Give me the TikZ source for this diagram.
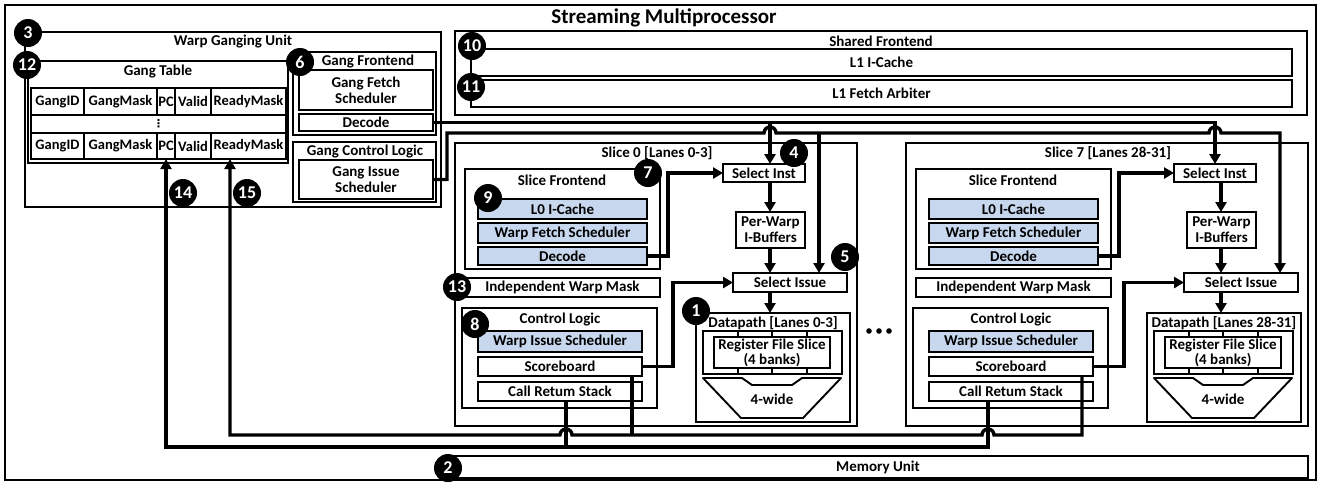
\documentclass[tikz,border=0pt]{standalone}
\usepackage{fontspec}
\setmainfont{Carlito}
\newfontfamily\dejavu{DejaVu Sans}
\usetikzlibrary{arrows.meta}
\definecolor{lblue}{RGB}{199,215,238}
\newcommand\mybox[7]{\node[#1,minimum width={(#5)-(#3)},minimum height={(#6)-(#4)}] (#2) at ({((#3)+(#5))/2},{((#4)+(#6))/2}) {#7};}
\tikzset{
  every node/.style={font=\bfseries\fontsize{15}{16}\selectfont, inner sep=1pt, outer sep=0pt},
  box/.style={draw, line width=1.9pt, fill=white, align=center},
  bbox/.style={box, fill=lblue},
  tcell/.style={box, font=\bfseries\fontsize{14.5}{15}\selectfont},
  lbl/.style={inner sep=0pt},
  conn/.style={line width=3.4pt},
  arr/.style={-{Triangle[length=10pt,width=11pt]}},
  num/.style={circle, fill=black, text=white, minimum size=28pt, inner sep=0pt, font=\bfseries\fontsize{18}{18}\selectfont},
}
\newcommand\drawslice[4]{%
\begin{scope}[xshift=#2pt]
\mybox{box}{#1box}{455}{143}{857}{426}{}
\node[lbl] (#1boxl) at (657,153) {#3};
\mybox{box}{#1fe}{465}{169}{660}{269}{}
\node[lbl] (#1fel) at (562,180) {Slice Frontend};
\mybox{bbox}{#1lz}{478}{199}{647}{219}{L0 I-Cache}
\mybox{bbox}{#1wfs}{478}{223}{647}{243}{Warp Fetch Scheduler}
\mybox{bbox}{#1dec}{478}{247}{647}{265}{Decode}
\mybox{box}{#1iwm}{465}{278}{660}{297}{Independent Warp Mask}
\mybox{box}{#1cl}{462}{308}{657}{408}{}
\node[lbl] (#1cll) at (560,319) {Control Logic};
\mybox{bbox}{#1wis}{478}{331}{642}{352}{Warp Issue Scheduler}
\mybox{box}{#1sb}{478}{357}{642}{376}{Scoreboard}
\mybox{box}{#1crs}{478}{382}{642}{401}{Call Retum Stack}
\mybox{box}{#1inst}{723}{164}{805}{182}{Select Inst}
\mybox{box}{#1pw}{736}{212}{805}{248}{Per-Warp\\I-Buffers}
\mybox{box}{#1iss}{733}{273}{847}{292}{Select Issue}
\mybox{box}{#1dp}{696}{313}{850}{422}{}
\node[lbl] (#1dpl) at (773,323) {#4};
\mybox{box}{#1rfo}{703}{331}{842}{374}{}
\mybox{box}{#1rf}{714}{337}{830}{368}{Register File Slice\\[-1pt](4 banks)}
\foreach \tk in {738,772,807}{\draw[line width=1.6pt] (\tk,331) -- (\tk,337) (\tk,368) -- (\tk,374);}
\draw[line width=1.9pt, line join=round] (703,378) -- (742,378) -- (752,385) -- (792,385) -- (802,378) -- (841,378) -- (803,418) -- (741,418) -- cycle;
\node[lbl] (#1alu) at (772,399) {4-wide};
\draw[conn,arr] (#1dec.east) -- (668,0 |- #1dec.east) -- (668,0 |- #1inst.west) -- (#1inst.west);
\draw[conn,arr] (770,0 |- #1inst.south) -- (770,0 |- #1pw.north);
\draw[conn,arr] (770,0 |- #1pw.south) -- (770,0 |- #1iss.north);
\draw[conn,arr] (770,0 |- #1iss.south) -- (770,0 |- #1dp.north);
\draw[conn,arr] (#1sb.east) -- (673,0 |- #1sb.east) -- (673,0 |- #1iss.west) -- (#1iss.west);
\end{scope}}
\begin{document}
\begin{tikzpicture}[x=1pt,y=-1pt]
\useasboundingbox (0,0) rectangle (1321,483);
\mybox{box}{sm}{5}{5}{1316}{480}{}
\node[lbl,font=\bfseries\fontsize{21}{21}\selectfont] (smt) at (664,18) {Streaming Multiprocessor};
% Warp ganging unit
\mybox{box}{wgu}{25}{32}{441}{207}{}
\node[lbl] (wgul) at (233,42) {Warp Ganging Unit};
\mybox{box}{gtab}{28}{61}{288}{163}{}
\node[lbl] (gtabl) at (158,72) {Gang Table};
\mybox{tcell}{gt11}{31}{88}{84}{115}{GangID}
\mybox{tcell}{gt12}{84}{88}{157}{115}{GangMask}
\mybox{tcell}{gt13}{157}{88}{175}{115}{PC}
\mybox{tcell}{gt14}{175}{88}{211}{115}{Valid}
\mybox{tcell}{gt15}{211}{88}{286}{115}{ReadyMask}
\mybox{tcell}{gt2}{31}{115}{286}{133}{\dejavu\fontsize{11}{11}\selectfont ⋮}
\mybox{tcell}{gt31}{31}{133}{84}{159}{GangID}
\mybox{tcell}{gt32}{84}{133}{157}{159}{GangMask}
\mybox{tcell}{gt33}{157}{133}{175}{159}{PC}
\mybox{tcell}{gt34}{175}{133}{211}{159}{Valid}
\mybox{tcell}{gt35}{211}{133}{286}{159}{ReadyMask}
\mybox{box}{gfe}{293}{52}{436}{135}{}
\node[lbl] (gfel) at (368,62) {Gang Frontend};
\mybox{box}{gfs}{299}{70}{433}{110}{Gang Fetch\\Scheduler}
\mybox{box}{gdec}{299}{114}{433}{131}{Decode}
\mybox{box}{gcl}{293}{142}{436}{202}{}
\node[lbl] (gcll) at (365,152) {Gang Control Logic};
\mybox{box}{gis}{299}{160}{433}{199}{Gang Issue\\Scheduler}
% Shared frontend
\mybox{box}{sfe}{455}{31}{1307}{115}{}
\node[lbl] (sfel) at (881,41) {Shared Frontend};
\mybox{box}{lonei}{471}{49}{1292}{76}{L1 I-Cache}
\mybox{box}{lonef}{471}{80}{1292}{107}{L1 Fetch Arbiter}
% Memory
\mybox{box}{mem}{448}{456}{1308}{478}{Memory Unit}
% Slices
\drawslice{s0}{0}{Slice 0 [Lanes 0-3]}{Datapath [Lanes 0-3]}
\drawslice{s7}{451}{Slice 7 [Lanes 28-31]}{Datapath [Lanes 28-31]}
% Buses from gang unit
\draw[conn,arr] (gdec.east) -- (gdec.east -| s7inst.north) -- (s7inst.north);
\draw[conn,arr] (770,0 |- gdec.east) -- (770,0 |- s0inst.north);
\draw[conn,arr] (gis.east) -- (447,0 |- gis.east) -- (447,133) -- (764,133) arc[start angle=180,end angle=0,radius=6pt] -- (1209,133) arc[start angle=180,end angle=0,radius=6pt] -- (1280,133) -- (1280,0 |- s7iss.north);
\draw[conn,arr] (819,133) -- (819,0 |- s0iss.north);
% Buses back to gang table
\draw[conn,arr] (1082,0 |- s7sb.south) -- (1082,435) -- (994,435) arc[start angle=0,end angle=180,radius=6pt] -- (572,435) arc[start angle=0,end angle=180,radius=6pt] -- (230,435) -- (230,0 |- gt35.south);
\draw[conn] (632,0 |- s0sb.south) -- (632,435);
\draw[conn,arr] (988,0 |- s7crs.south) -- (988,447) -- (gt33.south |- 0,447) -- (gt33.south);
\draw[conn] (566,0 |- s0crs.south) -- (566,447);
% dots
\foreach \xd in {869,879,889} \fill (\xd,331) circle (2.8pt);
% numbered markers
\node[num] (n1) at (696,311) {1};
\node[num] (n2) at (448,468) {2};
\node[num] (n3) at (28,33) {3};
\node[num] (n4) at (794,153) {4};
\node[num] (n5) at (845,257) {5};
\node[num] (n6) at (300,62) {6};
\node[num] (n7) at (648,173) {7};
\node[num] (n8) at (475,324) {8};
\node[num] (n9) at (488,198) {9};
\node[num] (n10) at (472,46) {10};
\node[num] (n11) at (471,87) {11};
\node[num] (n12) at (27,65) {12};
\node[num] (n13) at (457,287) {13};
\node[num] (n14) at (183,193) {14};
\node[num] (n15) at (247,193) {15};
\end{tikzpicture}
\end{document}
